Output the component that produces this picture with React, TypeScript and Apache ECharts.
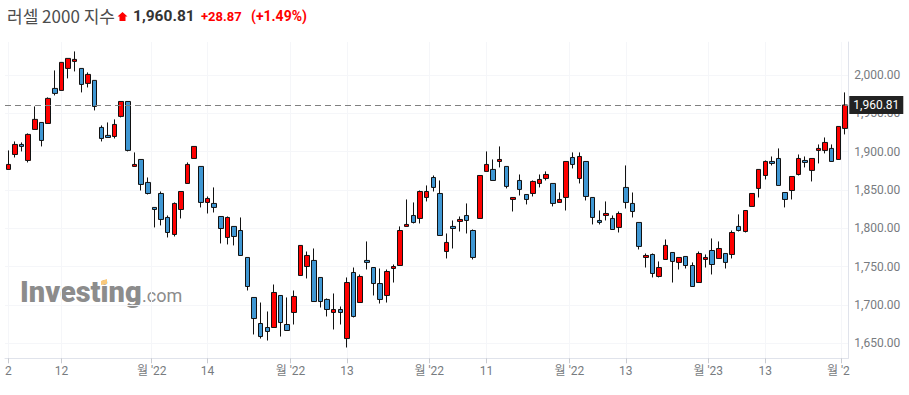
import React, { useEffect, useRef } from "react";
import * as echarts from "echarts";

const opens = [1876.7,1896.2,1909.3,1888.4,1928.9,1938.0,1936.7,1982.4,1979.8,2008.5,2017.7,2008.5,1989.0,1992.9,1931.5,1921.1,1919.7,1945.9,1965.4,1880.6,1889.7,1859.7,1827.1,1845.3,1814.0,1791.8,1824.4,1858.4,1891.0,1880.6,1833.6,1832.3,1815.3,1787.9,1802.3,1797.0,1761.8,1709.6,1675.6,1670.4,1670.4,1712.2,1674.3,1690.0,1738.3,1750.0,1757.9,1735.7,1707.0,1690.0,1693.9,1656.0,1742.2,1703.0,1757.9,1748.7,1727.8,1712.2,1747.4,1751.3,1802.3,1816.6,1812.7,1840.1,1866.2,1845.3,1769.6,1802.3,1808.8,1816.6,1797.0,1812.7,1874.1,1876.7,1887.1,1880.6,1837.5,1862.3,1844.0,1845.3,1858.4,1864.9,1858.4,1833.6,1840.1,1892.3,1864.9,1887.1,1840.1,1810.1,1816.6,1812.7,1801.0,1853.2,1832.3,1807.5,1761.8,1765.7,1737.0,1759.2,1768.3,1755.3,1763.1,1751.3,1729.1,1759.2,1770.9,1760.5,1767.0,1765.7,1802.3,1795.7,1828.4,1851.9,1868.8,1887.1,1891.0,1846.6,1849.2,1870.1,1888.4,1875.4,1901.5,1901.5,1904.1,1889.7,1930.2];
const closes = [1883.2,1909.3,1906.7,1922.4,1942.0,1914.5,1969.4,1975.9,2016.4,2021.6,2020.3,1987.6,2000.7,1958.9,1917.1,1918.4,1935.4,1965.4,1901.5,1883.2,1857.1,1845.3,1824.4,1811.4,1794.4,1832.3,1847.9,1883.2,1906.7,1833.6,1838.8,1827.1,1799.6,1814.0,1789.2,1764.4,1723.9,1682.1,1658.6,1665.2,1716.1,1676.9,1666.5,1710.9,1777.5,1764.4,1704.3,1704.3,1693.9,1693.9,1690.0,1729.1,1684.8,1737.0,1755.3,1727.8,1707.0,1743.5,1750.0,1797.0,1804.9,1807.5,1847.9,1847.9,1853.2,1790.5,1781.4,1799.6,1811.4,1810.1,1761.8,1868.8,1883.2,1862.3,1889.7,1854.5,1840.1,1850.6,1837.5,1861.0,1863.6,1870.1,1832.3,1837.5,1887.1,1883.2,1893.6,1841.4,1814.0,1807.5,1819.2,1798.3,1819.2,1833.6,1821.8,1776.2,1764.4,1740.9,1748.7,1777.5,1756.6,1761.8,1751.3,1723.9,1767.0,1761.8,1752.6,1773.5,1755.3,1794.4,1797.0,1823.1,1845.3,1876.7,1887.1,1884.5,1855.8,1837.5,1867.5,1891.0,1885.8,1891.0,1904.1,1911.9,1887.1,1932.8,1960.81];
const lows = [1876.7,1892.3,1900.2,1885.8,1928.9,1906.7,1936.7,1973.3,1979.8,1995.5,2004.6,1977.2,1983.7,1953.7,1913.2,1918.4,1917.1,1944.6,1900.2,1880.6,1849.2,1844.0,1801.0,1803.6,1787.9,1789.2,1812.7,1858.4,1891.0,1827.1,1819.2,1820.5,1780.1,1778.8,1777.5,1764.4,1718.7,1661.3,1656.0,1653.4,1670.4,1658.6,1666.5,1674.3,1738.3,1734.4,1704.3,1696.5,1684.8,1667.8,1674.3,1644.3,1683.5,1703.0,1746.1,1712.2,1701.7,1703.0,1729.1,1751.3,1802.3,1806.2,1806.2,1834.9,1847.9,1790.5,1760.5,1773.5,1795.7,1793.1,1759.2,1812.7,1874.1,1862.3,1879.3,1851.9,1821.8,1842.7,1831.0,1841.4,1853.2,1862.3,1828.4,1833.6,1823.1,1878.0,1858.4,1836.2,1804.9,1804.9,1810.1,1798.3,1794.4,1825.7,1814.0,1772.2,1748.7,1735.7,1735.7,1759.2,1729.1,1746.1,1747.4,1723.9,1729.1,1748.7,1739.6,1760.5,1747.4,1760.5,1795.7,1794.4,1828.4,1840.1,1863.6,1881.9,1855.8,1827.1,1837.5,1868.8,1879.3,1861.0,1884.5,1897.6,1887.1,1889.7,1922.4];
const highs = [1901.5,1913.2,1911.9,1923.7,1958.9,1938.0,1970.7,2005.9,2016.4,2021.6,2030.7,2008.5,2003.3,1992.9,1934.1,1938.0,1942.0,1965.4,1965.4,1898.9,1889.7,1866.2,1827.1,1847.9,1816.6,1833.6,1847.9,1885.8,1906.7,1880.6,1841.4,1853.2,1815.3,1815.3,1802.3,1814.0,1761.8,1709.6,1703.0,1691.3,1726.5,1712.2,1709.6,1718.7,1777.5,1769.6,1773.5,1735.7,1708.3,1714.8,1697.8,1735.7,1748.7,1739.6,1782.7,1748.7,1747.4,1746.1,1752.6,1802.3,1837.5,1833.6,1849.2,1855.8,1868.8,1862.3,1793.1,1810.1,1815.3,1832.3,1798.3,1868.8,1900.2,1889.7,1906.7,1880.6,1840.1,1870.1,1844.0,1862.3,1870.1,1874.1,1858.4,1846.6,1887.1,1898.9,1898.9,1887.1,1840.1,1823.1,1834.9,1816.6,1821.8,1881.9,1846.6,1807.5,1767.0,1767.0,1756.6,1785.3,1768.3,1761.8,1763.1,1755.3,1769.6,1765.7,1786.6,1782.7,1767.0,1797.0,1818.0,1823.1,1845.3,1876.7,1888.4,1893.6,1904.1,1846.6,1867.5,1896.2,1893.6,1891.0,1909.3,1918.4,1909.3,1932.8,1977.2];

const candleSlots = opens.map((_, i) => String(i));
const priceTicks = [1650, 1700, 1750, 1800, 1850, 1900, 1950, 2000];
const gridPositions = [0, 8, 21.6, 30, 42.5, 51, 63.4, 72, 84.5, 93, 105.4, 114, 125.5];
const labelPositions = [0, 8, 21.6, 30, 42.5, 51, 63.4, 72, 84.5, 93, 105.4, 114, 125];
const labelTexts = ["2", "12", "월 '22", "14", "월 '22", "13", "월 '22", "11", "월 '22", "13", "월 '23", "13", "월 '2"];
const lastPrice = 1960.81;

const FONT = "Roboto, 'Noto Sans CJK KR', sans-serif";
const AXIS_TEXT = "#777b80";
const LINE = "#e0e3eb";
const GRID = "#f5f6f9";

export default function App() {
  const ref = useRef<HTMLDivElement>(null);
  useEffect(() => {
    const chart = echarts.init(ref.current!, undefined, { renderer: "svg" });
    chart.setOption({
      animation: false,
      backgroundColor: "#fff",
      grid: { left: 5, top: 42, width: 843.3, height: 316.3, containLabel: false },
      xAxis: [
        {
          type: "category",
          data: candleSlots,
          show: false,
          boundaryGap: true,
        },
        {
          type: "value",
          position: "bottom",
          min: -0.5,
          max: 126.5,
          axisLine: { show: true, onZero: false, lineStyle: { color: LINE, width: 1 } },
          axisTick: { show: true, length: 5, customValues: gridPositions, lineStyle: { color: "#c8cad0" } },
          axisLabel: {
            customValues: labelPositions,
            color: AXIS_TEXT,
            fontFamily: FONT,
            fontSize: 12,
            margin: 7,
            hideOverlap: false,
            formatter: (v: number) => labelTexts[labelPositions.indexOf(v)] ?? "",
          },
          splitLine: { show: true, lineStyle: { color: GRID, width: 1 } },
        },
      ],
      yAxis: {
        type: "value",
        position: "right",
        min: 1630.2,
        max: 2043,
        scale: true,
        axisLine: { show: true, onZero: false, lineStyle: { color: LINE, width: 1 } },
        axisTick: { show: false, customValues: priceTicks },
        axisLabel: {
          customValues: priceTicks,
          color: AXIS_TEXT,
          fontFamily: FONT,
          fontSize: 12,
          margin: 6,
          formatter: (v: number) => v.toLocaleString("en-US", { minimumFractionDigits: 2, maximumFractionDigits: 2 }),
        },
        splitLine: { show: true, lineStyle: { color: GRID, width: 1 } },
      },
      series: [
        {
          type: "candlestick",
          xAxisIndex: 0,
          yAxisIndex: 0,
          barWidth: 5,
          data: opens.map((o, i) => [o, closes[i], lows[i], highs[i]]),
          itemStyle: {
            color: "#ff0000",
            color0: "#3f97d3",
            borderColor: "#111111",
            borderColor0: "#111111",
            borderWidth: 1,
          },
          markLine: {
            silent: true,
            symbol: "none",
            animation: false,
            data: [{ yAxis: lastPrice }],
            lineStyle: { color: "#808080", type: [6, 4], width: 1 },
            label: {
              show: true,
              position: "end",
              distance: 1,
              formatter: "1,960.81",
              color: "#fff",
              backgroundColor: "#222222",
              fontFamily: FONT,
              fontSize: 12,
              padding: [3, 4, 3, 4],
            },
          },
        },
      ],
      graphic: [
        { type: "text", x: 7, y: 15, style: { text: "러셀 2000 지수", font: "17px 'Noto Sans CJK KR', sans-serif", fill: "#4d4d4d", verticalAlign: "middle" } },
        { type: "polygon", shape: { points: [[122.5, 12], [127.5, 16.5], [125.5, 16.5], [125.5, 21], [119.5, 21], [119.5, 16.5], [117.5, 16.5]] }, style: { fill: "#ff0000" } },
        { type: "text", x: 133, y: 16, style: { text: "1,960.81", font: "bold 15.5px Roboto, sans-serif", fill: "#333333", verticalAlign: "middle" } },
        { type: "text", x: 201, y: 16, style: { text: "+28.87", font: "bold 13px Roboto, sans-serif", fill: "#ff0000", verticalAlign: "middle" } },
        { type: "text", x: 251, y: 16, style: { text: "(+1.49%)", font: "bold 14px Roboto, sans-serif", fill: "#ff0000", verticalAlign: "middle" } },
        { type: "text", x: 20, y: 292, style: { text: "Investing", font: "900 29px Roboto, sans-serif", fill: "#8c8c8c", verticalAlign: "middle" } },
        { type: "text", x: 142, y: 295, style: { text: ".com", font: "18px Roboto, sans-serif", fill: "#8c8c8c", verticalAlign: "middle" } },
        { type: "polygon", shape: { points: [[101, 281], [107, 279], [107, 284], [101, 285]] }, style: { fill: "#f9c97c" } },
      ],
    });
    return () => chart.dispose();
  }, []);
  return <div ref={ref} style={{ position: "absolute", left: 0, top: 0, width: 909, height: 395 }} />;
}
